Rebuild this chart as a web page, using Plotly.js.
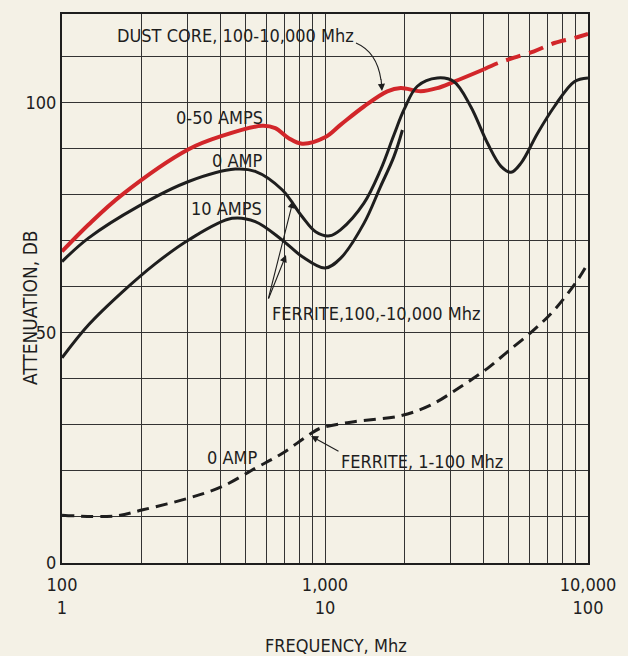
<!DOCTYPE html>
<html>
<head>
<meta charset="utf-8">
<script src="https://cdn.plot.ly/plotly-3.0.1.min.js"></script>
<style>html,body{margin:0;padding:0;background:#f4f1e6;}#chart{width:628px;height:656px;}</style>
</head>
<body>
<div id="chart"></div>
<script>
// Dust core, 0-50 AMPS (frequency in Mhz, 100-10,000 scale)
const dustFreq = [100, 126, 169, 303, 406, 576, 647, 728, 818, 1000, 1145, 1406, 1726, 1941, 2311, 2674, 3096, 4026];
const dustAtt  = [67.7, 73.5, 80.0, 89.9, 92.8, 95.0, 94.5, 92.3, 91.1, 92.5, 95.2, 99.2, 102.5, 103.2, 102.5, 103.2, 104.6, 107.3];
const dustExtFreq = [4026, 4529, 5234, 6237, 7450, 8868, 10000];
const dustExtAtt  = [107.3, 108.6, 109.8, 111.2, 113.0, 114.1, 115.0];

// Ferrite 100-10,000 Mhz, 0 AMP
const fer0Freq = [100, 126, 195, 303, 456, 543, 687, 818, 921, 1040, 1145, 1406, 1626, 1828, 1997, 2244, 2674, 3096, 3581, 4150, 4670, 5096, 5563, 6433, 7450, 8868, 10000];
const fer0Att  = [65.5, 70.6, 77.5, 82.9, 85.6, 85.1, 81.1, 75.3, 72.0, 71.1, 72.4, 78.2, 85.4, 93.0, 98.5, 103.6, 105.4, 104.6, 99.2, 91.2, 86.2, 84.9, 86.9, 93.4, 99.2, 104.6, 105.4];

// Ferrite 100-10,000 Mhz, 10 AMPS
const fer10Freq = [100, 126, 169, 226, 303, 443, 543, 687, 818, 1000, 1145, 1406, 1626, 1828, 1970];
const fer10Att  = [44.6, 51.7, 58.8, 65.0, 70.2, 74.9, 74.2, 70.2, 66.6, 64.1, 66.2, 73.8, 81.8, 88.3, 94.1];

// Ferrite 1-100 Mhz, 0 AMP (secondary frequency scale 1-100)
const lowFreq = [1, 1.59, 2.01, 3.03, 4.06, 5.44, 6.87, 8.67, 9.61, 12.9, 19.4, 25.2, 32.8, 41.5, 49.4, 62.4, 74.5, 91.3, 100];
const lowAtt  = [10.4, 10.2, 11.5, 14.1, 16.6, 20.6, 23.8, 27.8, 29.3, 30.7, 32.0, 34.3, 38.3, 42.3, 45.9, 50.7, 55.0, 61.5, 65.2];

// Axis ticks
const xTickVals = [100,200,300,400,500,600,700,800,900,1000,2000,3000,4000,5000,6000,7000,8000,9000,10000];
const xTickText = xTickVals.map(v => v === 100 ? '100<br>1' : v === 1000 ? '1,000<br>10' : v === 10000 ? '10,000<br>100' : '');
const yTickVals = [0,10,20,30,40,50,60,70,80,90,100,110];
const yTickText = yTickVals.map(v => (v === 0 || v === 50 || v === 100) ? String(v) : '');

const FONT = 'DejaVu Sans Condensed, DejaVu Sans, sans-serif';
const INK = '#1e1e1e';
const RED = '#d2262a';

const traces = [
  {x: dustFreq, y: dustAtt, mode: 'lines', line: {color: RED, width: 4, shape: 'spline', smoothing: 1}, hoverinfo: 'skip'},
  {x: dustExtFreq, y: dustExtAtt, mode: 'lines', line: {color: RED, width: 4, dash: '15px,9px', shape: 'spline'}, hoverinfo: 'skip'},
  {x: fer0Freq, y: fer0Att, mode: 'lines', line: {color: INK, width: 3, shape: 'spline', smoothing: 1}, hoverinfo: 'skip'},
  {x: fer10Freq, y: fer10Att, mode: 'lines', line: {color: INK, width: 3, shape: 'spline', smoothing: 1}, hoverinfo: 'skip'},
  {x: lowFreq, y: lowAtt, xaxis: 'x2', mode: 'lines', line: {color: INK, width: 3, dash: '12px,7px', shape: 'spline', smoothing: 1}, hoverinfo: 'skip'}
];

// pixel helpers for decorations (plot area: x 62..588, y 14..563)
const px = v => (v - 62) / 526;
const py = v => (563 - v) / 549;

const lbl = (text, x, y) => ({text, xref: 'paper', yref: 'paper', x: px(x), y: py(y), xanchor: 'center', yanchor: 'middle', showarrow: false, font: {family: FONT, size: 18, color: INK}});
const arr = (hx, hy, tx, ty) => ({text: '', xref: 'paper', yref: 'paper', x: px(hx), y: py(hy), ax: tx - hx, ay: ty - hy, showarrow: true, arrowhead: 2, arrowsize: 1.3, arrowwidth: 1.1, arrowcolor: INK, standoff: 0});

const layout = {
  width: 628, height: 656,
  margin: {l: 62, r: 40, t: 14, b: 93},
  paper_bgcolor: '#f4f1e6', plot_bgcolor: '#f4f1e6',
  showlegend: false,
  font: {family: FONT, size: 18, color: INK},
  xaxis: {type: 'log', range: [2, 4], tickvals: xTickVals, ticktext: xTickText, showgrid: true, gridcolor: '#333333', gridwidth: 1,
          ticks: '', showline: true, mirror: true, linecolor: INK, linewidth: 2, zeroline: false, ticklabelstandoff: 4,
          tickfont: {family: FONT, size: 18, color: INK}, tickangle: 0},
  xaxis2: {type: 'log', range: [0, 2], overlaying: 'x', visible: false},
  yaxis: {range: [0, 119.3], tickvals: yTickVals, ticktext: yTickText, showgrid: true, gridcolor: '#333333', gridwidth: 1,
          ticks: '', showline: true, mirror: true, linecolor: INK, linewidth: 2, zeroline: false,
          tickfont: {family: FONT, size: 18, color: INK}},
  shapes: [
    {type: 'path', xref: 'paper', yref: 'paper', path: `M ${px(356)},${py(43)} Q ${px(377)},${py(52)} ${px(381)},${py(80)}`, line: {color: INK, width: 1.1}}
  ],
  annotations: [
    lbl('DUST CORE, 100-10,000 Mhz', 235, 36),
    lbl('0-50 AMPS', 219, 117),
    lbl('0 AMP', 237, 160),
    lbl('10 AMPS', 226, 208),
    lbl('FERRITE,100,-10,000 Mhz', 376, 313),
    lbl('0 AMP', 232, 457),
    lbl('FERRITE, 1-100 Mhz', 422, 462),
    {text: 'ATTENUATION, DB', xref: 'paper', yref: 'paper', x: px(30), y: py(308), textangle: -90, xanchor: 'center', yanchor: 'middle', showarrow: false, font: {family: FONT, size: 19, color: INK}},
    {text: 'FREQUENCY, Mhz', xref: 'paper', yref: 'paper', x: px(336), y: py(645), xanchor: 'center', yanchor: 'middle', showarrow: false, font: {family: FONT, size: 18, color: INK}},
    arr(382, 91, 381, 78),
    arr(293, 201, 268, 300),
    arr(286, 255, 268, 300),
    arr(311, 436, 340, 452)
  ]
};

Plotly.newPlot('chart', traces, layout, {staticPlot: true, displayModeBar: false});
</script>
</body>
</html>
